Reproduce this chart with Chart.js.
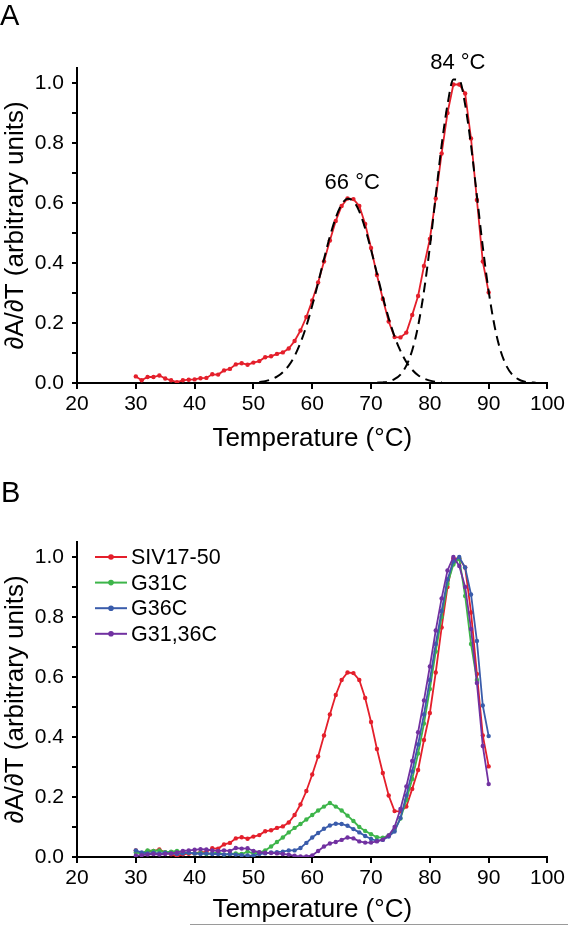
<!DOCTYPE html>
<html><head><meta charset="utf-8">
<script src="https://cdn.jsdelivr.net/npm/chart.js@4.4.1/dist/chart.umd.min.js"></script>
<style>
html,body{margin:0;padding:0;background:#fff;width:568px;height:927px;overflow:hidden;font-family:"Liberation Sans",Arial,Helvetica,sans-serif}
#wrapA{position:absolute;left:0;top:0;width:568px;height:460px}
#wrapB{position:absolute;left:0;top:460px;width:568px;height:467px}
.panel{position:absolute;font-size:29px;color:#000;line-height:1}
#bottomline{position:absolute;left:190px;top:924px;width:378px;height:1px;background:#9a9a9a}
</style></head><body>
<div id="wrapA"><canvas id="cA" width="568" height="460"></canvas></div>
<div id="wrapB"><canvas id="cB" width="568" height="467"></canvas></div>
<div class="panel" style="left:0;top:1px">A</div>
<div class="panel" style="left:1px;top:478px">B</div>
<div id="bottomline"></div>
<script>
// ---- data ----
const temps = [30,31,32,33,34,35,36,37,38,39,40,41,42,43,44,45,46,47,48,49,50,51,52,53,54,55,56,57,58,59,60,61,62,63,64,65,66,67,68,69,70,71,72,73,74,75,76,77,78,79,80,81,82,83,84,85,86,87,88,89,90];
const siv1750 = [0.022,0.009,0.020,0.020,0.025,0.015,0.009,0.003,0.009,0.011,0.012,0.016,0.017,0.029,0.028,0.042,0.047,0.062,0.066,0.061,0.068,0.073,0.086,0.089,0.097,0.102,0.115,0.140,0.175,0.220,0.275,0.335,0.405,0.475,0.540,0.590,0.615,0.613,0.590,0.530,0.450,0.360,0.280,0.205,0.153,0.152,0.168,0.227,0.290,0.390,0.480,0.615,0.765,0.900,0.995,0.995,0.965,0.815,0.610,0.405,0.302];
const g31c = [0.015,0.012,0.022,0.020,0.022,0.016,0.018,0.020,0.016,0.014,0.012,0.014,0.010,0.012,0.015,0.008,0.010,0.012,0.010,0.018,0.012,0.015,0.022,0.035,0.050,0.065,0.082,0.097,0.110,0.125,0.140,0.155,0.168,0.180,0.168,0.155,0.138,0.120,0.100,0.087,0.076,0.066,0.064,0.072,0.090,0.128,0.190,0.260,0.345,0.445,0.560,0.685,0.800,0.910,0.975,0.995,0.870,0.710,0.590];
const g36c = [0.022,0.015,0.012,0.014,0.012,0.014,0.012,0.010,0.012,0.014,0.012,0.010,0.012,0.010,0.010,0.008,0.010,0.008,0.006,0.005,0.004,0.010,0.012,0.015,0.016,0.018,0.022,0.022,0.030,0.047,0.065,0.080,0.094,0.105,0.111,0.110,0.104,0.093,0.082,0.070,0.060,0.054,0.057,0.068,0.085,0.130,0.205,0.285,0.375,0.475,0.590,0.710,0.820,0.925,0.985,1.000,0.965,0.875,0.720,0.505,0.403];
const g3136c = [0.005,0.006,0.008,0.010,0.008,0.010,0.012,0.015,0.020,0.022,0.024,0.026,0.025,0.022,0.020,0.022,0.020,0.030,0.028,0.029,0.020,0.016,0.014,0.013,0.012,0.010,0.008,0.004,0.002,0.002,0.005,0.020,0.035,0.045,0.050,0.057,0.065,0.062,0.052,0.048,0.048,0.052,0.058,0.072,0.100,0.160,0.235,0.320,0.416,0.522,0.635,0.755,0.862,0.955,1.000,0.970,0.900,0.760,0.580,0.370,0.243];
// fitted peaks (dashed)
const fit1T = [51,52,53,54,55,56,57,58,59,60,61,62,63,64,65,66,67,68,69,70,71,72,73,74,75,76,77,78,79,80,81,82];
const fit1Y = [0.003,0.006,0.012,0.021,0.036,0.058,0.090,0.134,0.190,0.258,0.334,0.413,0.488,0.551,0.595,0.614,0.606,0.572,0.515,0.444,0.365,0.287,0.216,0.155,0.107,0.070,0.044,0.026,0.015,0.008,0.004,0.002];
const fit2T = [71,72,73,74,75,76,77,78,79,80,81,82,83,84,85,86,87,88,89,90,91,92,93,94,95,96,97,98];
const fit2Y = [0.001,0.002,0.005,0.013,0.028,0.058,0.109,0.190,0.306,0.454,0.624,0.792,0.928,1.012,1.010,0.928,0.792,0.624,0.454,0.306,0.190,0.109,0.058,0.028,0.013,0.005,0.002,0.001];
const seriesNames = ['SIV17-50','G31C','G36C','G31,36C'];
const seriesColors = ['#e41f2b','#3db54a','#3a5cab','#7131a1'];
const peakLabels = [{text:'66 °C', t:66.8, v:0.667},{text:'84 °C', t:84.75, v:1.067}];
const xTickValues = [20,30,40,50,60,70,80,90,100];
const yTickValues = [0,0.1,0.2,0.3,0.4,0.5,0.6,0.7,0.8,0.9,1.0];
const yLabelValues = [0,0.2,0.4,0.6,0.8,1.0];
const yAxisMax = 1.05;

// ---- helpers ----
const F = '"Liberation Sans", Arial, Helvetica, sans-serif';
const pts = (xs, ys) => ys.map((v,i)=>({x:xs[i], y:v}));
function series(i, vals, order){
  return {label:seriesNames[i], data:pts(temps, vals), borderColor:seriesColors[i], backgroundColor:seriesColors[i],
    borderWidth:1.8, pointRadius:2.2, pointBorderWidth:0, pointHoverRadius:2.2, tension:0, order:order};
}
function dashed(xs, ys){
  return {label:'fit', data:pts(xs, ys), borderColor:'#000', borderWidth:2, borderDash:[10,6],
    pointRadius:0, tension:0.4, cubicInterpolationMode:'monotone', order:0};
}
function baseOptions(padTop, xHeight, titlePadBottom){
  return {
    responsive:false, animation:false, devicePixelRatio:1,
    layout:{padding:{top:padTop, right:19, left:0, bottom:0}},
    plugins:{legend:{display:false}, tooltip:{enabled:false}},
    scales:{
      x:{type:'linear', min:xTickValues[0], max:xTickValues[xTickValues.length-1],
        afterBuildTicks:s=>{s.ticks = xTickValues.map(v=>({value:v}));},
        ticks:{autoSkip:false, maxRotation:0, color:'#000', font:{size:21, family:F}, padding:3},
        grid:{drawOnChartArea:false, drawTicks:true, tickLength:6, color:'#000', lineWidth:2},
        border:{display:true, color:'#000', width:2},
        title:{display:true, text:'Temperature (°C)', color:'#000', font:{size:26, family:F}, padding:{top:0, bottom:titlePadBottom}},
        afterFit:s=>{s.height = xHeight;}
      },
      y:{type:'linear', min:0, max:yAxisMax,
        afterBuildTicks:s=>{s.ticks = yTickValues.map(v=>({value:v}));},
        ticks:{autoSkip:false, color:'#000', font:{size:21, family:F}, padding:8,
          callback:v=>{return yLabelValues.some(l=>Math.abs(l-v)<1e-6) ? v.toFixed(1) : '';}},
        grid:{drawOnChartArea:false, drawTicks:true, tickLength:5, color:'#000', lineWidth:2},
        border:{display:true, color:'#000', width:2},
        title:{display:true, text:'∂A/∂T (arbitrary units)', color:'#000', font:{size:26, family:F}, padding:{top:0, bottom:0}},
        afterFit:s=>{s.width = 77;}
      }
    }
  };
}

const peakLabelPlugin = {id:'peakLabels', afterDatasetsDraw(chart){
  const {ctx, scales:{x,y}} = chart;
  ctx.save(); ctx.font = '22px '+F; ctx.fillStyle='#000'; ctx.textAlign='center'; ctx.textBaseline='middle';
  peakLabels.forEach(p=>ctx.fillText(p.text, x.getPixelForValue(p.t), y.getPixelForValue(p.v)));
  ctx.restore();
}};

const lineLegendPlugin = {id:'lineLegend', afterDatasetsDraw(chart){
  const {ctx, chartArea:ca} = chart;
  ctx.save(); ctx.font = '21.5px '+F; ctx.textBaseline='middle'; ctx.textAlign='left';
  seriesNames.forEach((name,i)=>{
    const yy = ca.top + 15 + i*25.6;
    ctx.strokeStyle = seriesColors[i]; ctx.lineWidth = 2;
    ctx.beginPath(); ctx.moveTo(ca.left+18, yy); ctx.lineTo(ca.left+50, yy); ctx.stroke();
    ctx.fillStyle = seriesColors[i]; ctx.beginPath(); ctx.arc(ca.left+34, yy, 2.8, 0, Math.PI*2); ctx.fill();
    ctx.fillStyle = '#000'; ctx.fillText(name, ca.left+54, yy+1);
  });
  ctx.restore();
}};

new Chart(document.getElementById('cA'), {
  type:'line',
  data:{datasets:[ series(0, siv1750, 1), dashed(fit1T, fit1Y), dashed(fit2T, fit2Y) ]},
  options: baseOptions(68, 77, 6),
  plugins:[peakLabelPlugin]
});

new Chart(document.getElementById('cB'), {
  type:'line',
  data:{datasets:[ series(0, siv1750, 3), series(1, g31c, 2), series(2, g36c, 1), series(3, g3136c, 0) ]},
  options: baseOptions(82, 70, 1.5),
  plugins:[lineLegendPlugin]
});
</script>
</body></html>
